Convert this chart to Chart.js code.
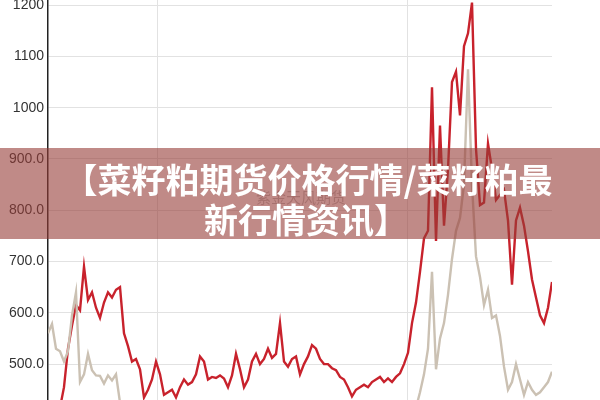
<!DOCTYPE html>
<html><head><meta charset="utf-8">
<script src="https://cdn.jsdelivr.net/npm/chart.js@4.4.1/dist/chart.umd.min.js"></script>
<style>html,body{margin:0;padding:0;background:#fff;overflow:hidden}#wrap{width:600px;height:400px;position:relative}</style>
</head><body><div id="wrap"><canvas id="c"></canvas></div>
<script>
const titleLines = ["【菜籽粕期货价格行情/菜籽粕最", "新行情资讯】"];
const watermark = "紫金天风期货";
const yTicks = [500, 600, 700, 800, 900, 1000, 1100, 1200];
const xGrid = [27.25, 89.75];
const redSeries = [410,405,410,415,455,530,575,615,605,690,625,640,610,590,620,640,630,645,650,560,
535,505,510,490,435,450,470,505,480,440,445,450,435,455,470,460,465,480,515,505,
470,475,473,478,472,455,478,520,490,455,470,505,520,500,510,530,512,520,580,505,
495,510,515,480,500,515,537,530,510,500,500,492,488,475,470,455,437,450,455,460,
455,465,470,475,465,472,465,475,482,500,522,580,620,680,745,760,1040,740,965,770,
880,1050,1070,985,1120,1145,1205,920,810,815,930,880,820,830,840,780,655,780,805,770,
720,665,630,595,580,610,660];
const beigeSeries = [560,578,530,525,505,525,595,640,465,480,520,488,478,477,462,478,468,480,425,405,
400,400,400,400,400,400,400,400,400,400,400,400,400,400,400,400,400,400,400,400,
400,400,400,400,400,400,400,400,400,400,400,400,400,400,400,400,400,400,400,400,
400,400,400,400,400,400,400,400,400,400,400,400,400,400,400,400,400,400,400,400,
400,400,400,400,400,400,400,400,400,400,400,405,415,445,480,530,680,490,550,580,
635,705,760,785,850,1075,850,710,670,615,645,590,595,555,495,450,465,500,470,440,
465,450,440,445,455,465,485];
const weeks = redSeries.map((_, i) => i);

const overlay = {
  id: 'overlay',
  beforeDatasetsDraw(chart) {
    const ctx = chart.ctx;
    ctx.save();
    ctx.fillStyle = 'rgba(140,140,140,0.55)';
    ctx.font = '15px "Noto Sans CJK SC"';
    ctx.textAlign = 'center';
    ctx.textBaseline = 'middle';
    ctx.fillText(watermark, 301, 197);
    ctx.restore();
  },
  afterDraw(chart) {
    const ctx = chart.ctx;
    ctx.save();
    ctx.fillStyle = 'rgba(150,60,55,0.6)';
    ctx.fillRect(0, 148, 600, 91);
    ctx.fillStyle = '#ffffff';
    ctx.font = 'bold 34px "Noto Sans CJK SC"';
    ctx.textAlign = 'center';
    ctx.textBaseline = 'middle';
    ctx.fillText(titleLines[0], 308, 180);
    ctx.fillText(titleLines[1], 306, 220);
    ctx.restore();
  }
};

new Chart(document.getElementById('c'), {
  type: 'line',
  data: {
    datasets: [
      { label: 'beige', data: weeks.map((w, i) => ({x: w, y: beigeSeries[i]})), borderColor: '#cbc1b3', borderWidth: 2.4, pointRadius: 0, tension: 0 },
      { label: 'red', data: weeks.map((w, i) => ({x: w, y: redSeries[i]})), borderColor: '#c8222c', borderWidth: 2.4, pointRadius: 0, tension: 0 }
    ]
  },
  options: {
    responsive: true, maintainAspectRatio: false, animation: false,
    layout: { padding: { left: 0, right: 48, top: 0, bottom: 0 } },
    plugins: { legend: { display: false }, tooltip: { enabled: false } },
    scales: {
      x: {
        type: 'linear', min: 0, max: weeks.length - 1,
        ticks: { display: false },
        border: { display: false },
        grid: { color: '#e2e2e2', drawTicks: false, lineWidth: 1 },
        afterBuildTicks: (s) => { s.ticks = xGrid.map(v => ({ value: v })); },
        afterFit: (s) => { s.height = 0; s.paddingLeft = 0; s.paddingRight = 0; }
      },
      y: {
        type: 'linear', min: 430, max: 1210, position: 'left',
        border: { display: true, color: '#222', width: 1.5 },
        grid: { color: '#e2e2e2', drawTicks: false, lineWidth: 1 },
        ticks: {
          padding: 4, color: '#333',
          font: { family: '"Liberation Sans", Arial, sans-serif', size: 14 },
          callback: (v) => v >= 1000 ? String(v) : Number(v).toFixed(1)
        },
        afterBuildTicks: (s) => { s.ticks = yTicks.map(v => ({ value: v })); },
        afterFit: (s) => { s.width = 48; s.paddingTop = 0; s.paddingBottom = 0; }
      }
    }
  },
  plugins: [overlay]
});
</script></body></html>
